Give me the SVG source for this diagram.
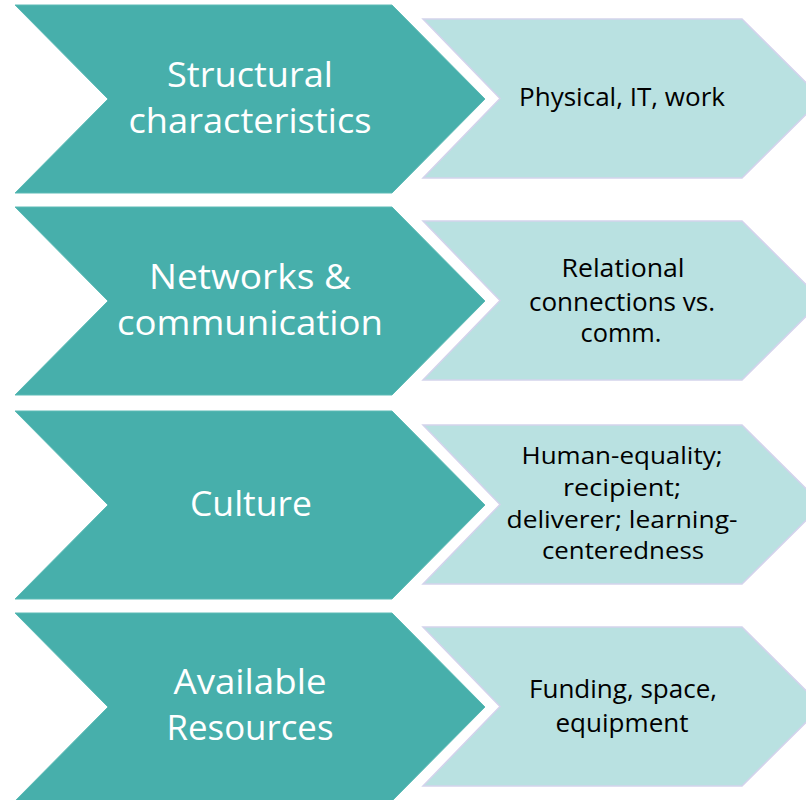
<svg xmlns="http://www.w3.org/2000/svg" width="806" height="800" viewBox="0 0 806 800">
<style>
.dark{fill:#47AFAB;stroke:#5DBBB6;stroke-width:1}
.light{fill:#B9E1E1;stroke:#D3D3EC;stroke-width:1.5}
.dt{font-family:"Open Sans","Noto Sans",sans-serif;font-size:34px;fill:#FFFFFF;text-anchor:middle}
.lt{font-family:"Open Sans","Noto Sans",sans-serif;font-size:25px;fill:#000000;text-anchor:middle}
.lt.sm{font-size:23.5px}
</style>
<rect width="806" height="800" fill="#FFFFFF"/>
<g id="connectors"></g>
<g id="node-structural">
<polygon class="dark" points="15,5 392,5 485,99 392,193 15,193 108,99"/>
<text class="dt" x="250" y="87" textLength="166" lengthAdjust="spacingAndGlyphs">Structural</text>
<text class="dt" x="250" y="133" textLength="243" lengthAdjust="spacingAndGlyphs">characteristics</text>
</g>
<g id="node-physical">
<polygon class="light" points="423,19 742,19 822,98.5 742,178 423,178 500,98.5"/>
<text class="lt" x="622" y="106" textLength="206" lengthAdjust="spacingAndGlyphs">Physical, IT, work</text>
</g>
<g id="node-networks">
<polygon class="dark" points="15,207 392,207 485,301 392,395 15,395 108,301"/>
<text class="dt" x="250" y="289" textLength="202" lengthAdjust="spacingAndGlyphs">Networks &amp;</text>
<text class="dt" x="250" y="335" textLength="266" lengthAdjust="spacingAndGlyphs">communication</text>
</g>
<g id="node-relational">
<polygon class="light" points="423,221 742,221 822,300.5 742,380 423,380 500,300.5"/>
<text class="lt" x="623" y="277" textLength="123" lengthAdjust="spacingAndGlyphs">Relational</text>
<text class="lt" x="622" y="311" textLength="186" lengthAdjust="spacingAndGlyphs">connections vs.</text>
<text class="lt" x="621" y="342" textLength="81" lengthAdjust="spacingAndGlyphs">comm.</text>
</g>
<g id="node-culture">
<polygon class="dark" points="15,411 392,411 485,505 392,599 15,599 108,505"/>
<text class="dt" x="251" y="516" textLength="122" lengthAdjust="spacingAndGlyphs">Culture</text>
</g>
<g id="node-human">
<polygon class="light" points="423,425 742,425 822,504.5 742,584 423,584 500,504.5"/>
<text class="lt sm" x="622" y="464" textLength="201" lengthAdjust="spacingAndGlyphs">Human-equality;</text>
<text class="lt sm" x="622" y="496" textLength="118" lengthAdjust="spacingAndGlyphs">recipient;</text>
<text class="lt sm" x="622" y="527.5" textLength="231" lengthAdjust="spacingAndGlyphs">deliverer; learning-</text>
<text class="lt sm" x="623" y="559" textLength="162" lengthAdjust="spacingAndGlyphs">centeredness</text>
</g>
<g id="node-resources">
<polygon class="dark" points="15,613 392,613 485,707 392,801 15,801 108,707"/>
<text class="dt" x="250" y="694" textLength="153" lengthAdjust="spacingAndGlyphs">Available</text>
<text class="dt" x="250" y="740" textLength="167" lengthAdjust="spacingAndGlyphs">Resources</text>
</g>
<g id="node-funding">
<polygon class="light" points="423,627 742,627 822,706.5 742,786 423,786 500,706.5"/>
<text class="lt" x="623" y="698" textLength="188" lengthAdjust="spacingAndGlyphs">Funding, space,</text>
<text class="lt" x="622" y="732" textLength="133" lengthAdjust="spacingAndGlyphs">equipment</text>
</g>
</svg>
